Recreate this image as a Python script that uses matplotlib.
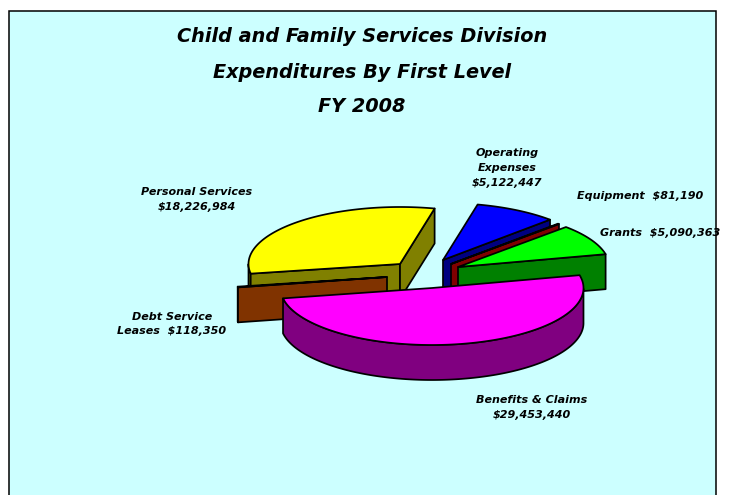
import numpy as np
import matplotlib
matplotlib.use('Agg')
import matplotlib.pyplot as plt
from matplotlib.patches import Polygon, Rectangle

# Expenditures, in clockwise order from the start angle
slice_names = ['Benefits & Claims', 'Debt Service Leases', 'Personal Services',
               'Operating Expenses', 'Equipment', 'Grants']
slice_values = [29453440, 118350, 18226984, 5122447, 81190, 5090363]
title_lines = ['Child and Family Services Division', 'Expenditures By First Level', 'FY 2008']

top_colors = ['#FF00FF', '#993300', '#FFFF00', '#0000FF', '#C00000', '#00FF00']
side_colors = ['#800080', '#803300', '#808000', '#000080', '#800000', '#008000']
# apex of each exploded slice, in pixels
apex = [(432, 288), (387, 277), (400, 264), (443, 260), (451, 264), (458, 267)]
draw_order = [2, 3, 4, 5, 1, 0]

RX, RY, DEPTH = 151.5, 57, 35
START = 13.0

fig = plt.figure(figsize=(7.32, 4.95), dpi=100, facecolor='white')
ax = fig.add_axes([0, 0, 1, 1])
ax.set_xlim(0, 732)
ax.set_ylim(495, 0)
ax.axis('off')

ax.add_patch(Rectangle((9, 11), 707, 500, facecolor='#CCFFFF', edgecolor='black', lw=1.1))


def rim_point(c, t):
    t = np.radians(t)
    return c[0] + RX * np.cos(t), c[1] - RY * np.sin(t)


def face(points, color):
    ax.add_patch(Polygon(points, closed=True, facecolor=color, edgecolor='black',
                         lw=1.25, joinstyle='round'))


def cut_face(c, t, color):
    x, y = rim_point(c, t)
    face([c, (x, y), (x, y + DEPTH), (c[0], c[1] + DEPTH)], color)


# slice angles from the values
total = sum(slice_values)
spans = [v / total * 360 for v in slice_values]
starts = START - np.concatenate([[0], np.cumsum(spans)[:-1]])

for i in draw_order:
    c = apex[i]
    t0, t1 = starts[i], starts[i] - spans[i]
    side = side_colors[i]
    # outer rim, only the part facing the viewer
    ts = np.linspace(t0, t1, 200)
    front = ts[np.sin(np.radians(ts)) <= 0]
    if len(front) > 1:
        upper = [rim_point(c, t) for t in front]
        lower = [(x, y + DEPTH) for x, y in upper]
        face(upper + lower[::-1], side)
    # flat cut faces
    if np.cos(np.radians(t0)) < 0:
        cut_face(c, t0, side)
    if np.cos(np.radians(t1)) > 0:
        cut_face(c, t1, side)
    face([c] + [rim_point(c, t) for t in ts], top_colors[i])

# title
title_font = dict(family='DejaVu Sans', fontsize=13.9, fontweight='bold', fontstyle='italic',
                  ha='center', va='center', color='black')
for line, y in zip(title_lines, [37, 72, 106]):
    ax.text(362, y, line, **title_font)

# labels
label_font = dict(family='DejaVu Sans', fontsize=8, fontweight='bold', fontstyle='italic',
                  va='center', color='black')
ax.text(507, 153, 'Operating', ha='center', **label_font)
ax.text(507, 168, 'Expenses', ha='center', **label_font)
ax.text(507, 183, '$5,122,447', ha='center', **label_font)
ax.text(577, 196, 'Equipment  $81,190', ha='left', **label_font)
ax.text(600, 233, 'Grants  $5,090,363', ha='left', **label_font)
ax.text(197, 192, 'Personal Services', ha='center', **label_font)
ax.text(197, 207, '$18,226,984', ha='center', **label_font)
ax.text(172, 317, 'Debt Service', ha='center', **label_font)
ax.text(172, 331, 'Leases  $118,350', ha='center', **label_font)
ax.text(532, 400, 'Benefits & Claims', ha='center', **label_font)
ax.text(532, 415, '$29,453,440', ha='center', **label_font)

fig.savefig('out.png', dpi=100, facecolor='white')
